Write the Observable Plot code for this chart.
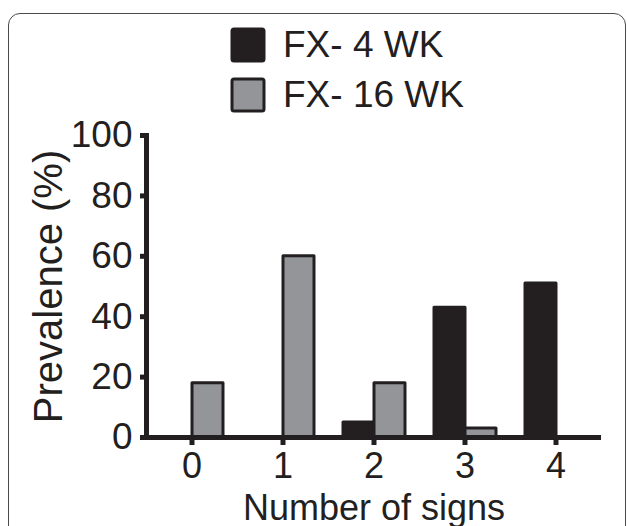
<!DOCTYPE html>
<html><head><meta charset="utf-8">
<script src="https://cdn.jsdelivr.net/npm/d3@7"></script>
<script src="https://cdn.jsdelivr.net/npm/@observablehq/plot@0.6"></script>
<style>
html,body{margin:0;padding:0;background:#fff;}
#wrap{position:relative;width:627px;height:526px;overflow:hidden;font-family:"Liberation Sans",Arial,sans-serif;}
#border{position:absolute;left:8px;top:13px;width:618px;height:560px;border:1.5px solid #4a4a4a;border-radius:12px;box-sizing:border-box;}
#chart{position:absolute;left:0;top:0;}
#legend{position:absolute;left:232px;top:20px;}
#legend .lg-swatch{height:50px;padding:0;margin:0;}
#legend .lg-swatch > svg{margin-right:19px;}
#legend .lg-swatch rect{stroke:#231f20;stroke-width:3px;rx:2px;}
#legend .lg-swatches{margin:0;}
</style>
</head><body>
<div id="wrap"><div id="border"></div><div id="chart"></div><div id="legend"></div></div>
<script>
const signs = [0, 1, 2, 3, 4];
const series = ["FX- 4 WK", "FX- 16 WK"];
const wk4 = [0, 0, 5, 43, 51];
const wk16 = [18, 60, 18, 3, 0];
const colors = ["#231f20", "#939598"];
const yTicks = [0, 20, 40, 60, 80, 100];

const data = signs.flatMap((s, i) => [
  {signs: s, series: series[0], value: wk4[i]},
  {signs: s, series: series[1], value: wk16[i]}
]);

const ink = "#231f20";
const chart = Plot.plot({
  width: 627, height: 526,
  marginLeft: 146, marginRight: 26, marginTop: 135, marginBottom: 89,
  style: {fontFamily: "'Liberation Sans', Arial, sans-serif", fontSize: "36px", color: ink, background: "transparent", overflow: "visible"},
  fx: {domain: signs, paddingInner: 0, paddingOuter: 0, label: null, axis: null},
  x: {domain: series, axis: null, paddingInner: 0, paddingOuter: 0.44},
  y: {domain: [0, 100], axis: null},
  color: {domain: series, range: colors},
  marks: [
    Plot.barY(data, {fx: "signs", x: "series", y: "value", fill: "series", stroke: ink, strokeWidth: 3, strokeLinejoin: "round"}),
    Plot.ruleY([0], {stroke: ink, strokeWidth: 5}),
    Plot.frame({anchor: "left", facetAnchor: "left", stroke: ink, strokeWidth: 5}),
    Plot.axisY({ticks: yTicks, tickSize: 6, tickPadding: 8, strokeWidth: 5, fontSize: 37, label: null}),
    Plot.axisY({ticks: [], tickSize: 0, fontSize: 40, label: "Prevalence (%)", labelAnchor: "center", labelOffset: 113, labelArrow: "none"}),
    Plot.axisFx({anchor: "bottom", tickSize: 8, tickPadding: 7, strokeWidth: 5, fontSize: 36, label: "Number of signs", labelAnchor: "center", labelOffset: 82, labelArrow: "none"})
  ]
});
document.getElementById("chart").appendChild(chart);

const legend = Plot.legend({
  color: {type: "ordinal", domain: series, range: colors},
  columns: 1,
  swatchSize: 32,
  className: "lg",
  style: {fontFamily: "'Liberation Sans', Arial, sans-serif", fontSize: "37px", color: ink}
});
document.getElementById("legend").appendChild(legend);
</script>
</body></html>
